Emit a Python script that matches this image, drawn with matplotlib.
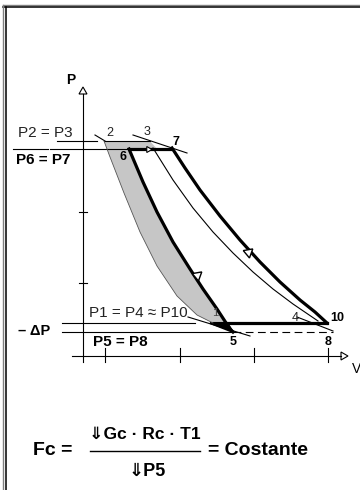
import matplotlib
matplotlib.use("Agg")
import matplotlib.pyplot as plt

plt.rcParams["font.family"] = ["Liberation Sans", "DejaVu Sans"]

# diagram coordinates: V to the right, P upwards (origin where the axes cross)
# reference compression 2 -> 1 (thin curve, left edge of shaded area)
v_comp_ref = [21, 27, 41, 57, 74, 94, 114, 130]
p_comp_ref = [215, 199, 163, 124, 90, 60, 41, 33]

# real compression 6 -> 5 (thick)
v_comp = [46, 60, 74, 90, 107, 120, 134, 147, 150]
p_comp = [207, 174, 144, 114, 87, 67, 47, 27, 24]

# reference expansion 3 -> 4 (thin)
v_exp_ref = [70, 90, 110, 130, 150, 170, 190, 210, 235]
p_exp_ref = [208, 176, 148, 124, 103, 84, 67, 52, 35]

# real expansion 7 -> 10 (thick)
v_exp = [89, 102, 117, 137, 157, 177, 197, 217, 232, 244]
p_exp = [208, 188, 166, 140, 116, 94, 74, 56, 44, 33]

# pressure levels
p23 = 215
p67 = 207
p1 = 33
p5 = 24
v_ticks = [22, 97, 171, 245]
p_ticks = [144, 73]

fig = plt.figure(figsize=(3.6, 4.9), dpi=100)
ax = fig.add_axes([0, 0, 1, 1])
ax.set_xlim(-83, 277)
ax.set_ylim(-134, 356)
ax.axis("off")

k = "black"
thin = 0.8
thick = 2.3

# frame (double line top and left)
ax.plot([-80, 277], [351, 351], color="#808080", lw=1.0)
ax.plot([-80, 277], [348.5, 348.5], color=k, lw=1.1)
ax.plot([-80, -80], [-134, 351], color="#808080", lw=1.0)
ax.plot([-77, -77], [-134, 348.5], color=k, lw=1.1)

# shaded area between the two compressions
top_v = [v_comp_ref[0], 67, 74, v_comp[0]]
top_p = [p23, p23, p67, p67]
poly_v = top_v + v_comp + v_comp_ref[::-1]
poly_p = top_p + p_comp + p_comp_ref[::-1]
ax.fill(poly_v, poly_p, color="#c6c6c6", lw=0, zorder=1)

# axes
ax.plot([0, 0], [-6, 262], color=k, lw=thin)
ax.plot([-11, 258], [0, 0], color=k, lw=thin)
ax.fill([-4, 4, 0], [262, 262, 269], facecolor="white", edgecolor=k, lw=thin)
ax.fill([258, 258, 265], [-4, 4, 0], facecolor="white", edgecolor=k, lw=thin)
for v in v_ticks:
    ax.plot([v, v], [-6, 8], color=k, lw=thin)
for p in p_ticks:
    ax.plot([-4, 4], [p, p], color=k, lw=thin)
ax.text(-12, 276, "P", fontsize=10, fontweight="bold", ha="center", va="center")
ax.text(269, -13, "V", fontsize=10, ha="left", va="center")

# pressure level lines
ax.plot([-26, 14], [p23, p23], color=k, lw=thin)
ax.plot([-70, -35], [p67, p67], color=k, lw=thin)
ax.plot([-33, v_comp[0]], [p67, p67], color=k, lw=thin)
ax.plot([-21, 112], [p1, p1], color=k, lw=thin)
ax.plot([-21, 150], [p5, p5], color=k, lw=thin)
ax.plot([150, 250], [p5, p5], color=k, lw=thin, dashes=(7, 4))

# slanted construction lines
ax.plot([12, 22], [221, 215], color=k, lw=thin)
ax.plot([50, 104], [221, 203], color=k, lw=thin)
ax.plot([105, 167], [39, 20], color=k, lw=thin)
ax.plot([214, 250], [39, 25], color=k, lw=thin)

# reference cycle (thin)
ax.plot([v_comp_ref[0], 67], [p23, p23], color=k, lw=thin)
ax.plot(v_comp_ref, p_comp_ref, color="#555555", lw=0.6)
ax.plot(v_exp_ref, p_exp_ref, color=k, lw=thin)

# real cycle (thick)
ax.plot([v_comp[0], v_exp[0]], [p67, p67], color=k, lw=thick, solid_capstyle="round")
ax.plot(v_exp, p_exp, color=k, lw=thick, solid_joinstyle="round")
ax.plot([144, v_exp[-1]], [p1, p1], color=k, lw=thick)
ax.plot(v_comp, p_comp, color=k, lw=thick, solid_joinstyle="round")
ax.fill([127, 150, 144], [p1, p5, p1], color=k, lw=1.5, edgecolor=k)

# direction arrows
ax.plot([114], [81], marker=(3, 0, 190), ms=8, mfc="white", mec=k, mew=1.0, zorder=5)
ax.plot([165], [104], marker=(3, 0, 190), ms=8, mfc="white", mec=k, mew=1.0, zorder=5)
ax.plot([65], [p67], marker=(3, 0, 270), ms=5, mfc="white", mec=k, mew=0.8, zorder=5)

# point labels
ax.text(27, 223, "2", fontsize=9, ha="center", va="center", color="#222222")
ax.text(64, 224, "3", fontsize=9, ha="center", va="center", color="#222222")
ax.text(93, 214, "7", fontsize=9, fontweight="bold", ha="center", va="center")
ax.text(40, 199, "6", fontsize=9, fontweight="bold", ha="center", va="center")
ax.text(132, 43, "1", fontsize=8, ha="center", va="center", color="#444444")
ax.text(212, 38, "4", fontsize=9, ha="center", va="center", color="#222222")
ax.text(254, 38, "10", fontsize=9, fontweight="bold", ha="center", va="center")
ax.text(150, 14, "5", fontsize=9, fontweight="bold", ha="center", va="center")
ax.text(245, 14, "8", fontsize=9, fontweight="bold", ha="center", va="center")

# pressure labels
ax.text(-38, 223, "P2 = P3", fontsize=11, ha="center", va="center", color="#222222")
ax.text(-40, 196, "P6 = P7", fontsize=11, fontweight="bold", ha="center", va="center")
ax.text(55, 43, "P1 = P4 \u2248 P10", fontsize=11, ha="center", va="center", color="#222222")
ax.text(-49, 25, "\u2013 \u0394P", fontsize=10.5, fontweight="bold", ha="center", va="center")
ax.text(37, 14, "P5 = P8", fontsize=11, fontweight="bold", ha="center", va="center")

# formula
ax.text(-30, -94, "Fc =", fontsize=14, fontweight="bold", ha="center", va="center")
ax.text(62, -78, "\u21d3Gc \u00b7 Rc \u00b7 T1", fontsize=12.5, fontweight="bold", ha="center", va="center")
ax.plot([7, 117], [-95, -95], color=k, lw=1.0)
ax.text(64, -115, "\u21d3P5", fontsize=13, fontweight="bold", ha="center", va="center")
ax.text(125, -94, "= Costante", fontsize=14, fontweight="bold", ha="left", va="center")

fig.savefig("out.png", dpi=100)
